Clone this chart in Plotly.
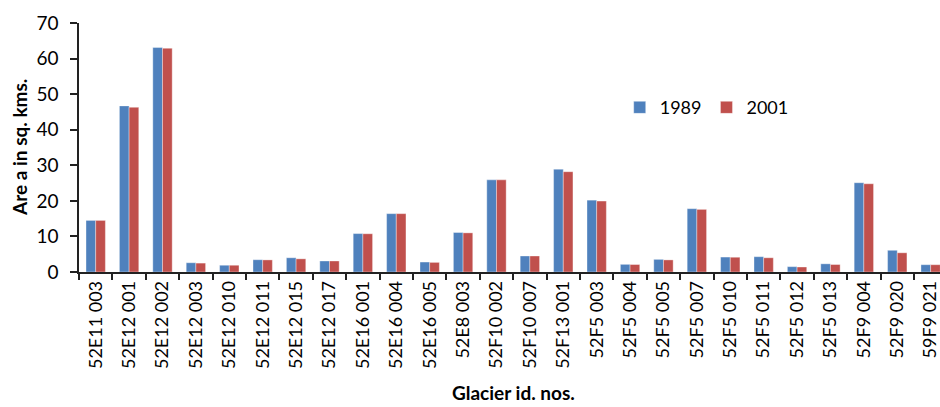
import plotly.graph_objects as go

glaciers = ["52E11 003", "52E12 001", "52E12 002", "52E12 003", "52E12 010", "52E12 011",
            "52E12 015", "52E12 017", "52E16 001", "52E16 004", "52E16 005", "52E8 003",
            "52F10 002", "52F10 007", "52F13 001", "52F5 003", "52F5 004", "52F5 005",
            "52F5 007", "52F5 010", "52F5 011", "52F5 012", "52F5 013", "52F9 004",
            "52F9 020", "59F9 021"]
area_1989 = [14.5, 46.7, 63.1, 2.6, 1.9, 3.45, 4.0, 3.1, 10.8, 16.4, 2.8, 11.1,
             25.9, 4.5, 28.9, 20.2, 2.15, 3.55, 17.8, 4.2, 4.3, 1.5, 2.3, 25.1, 6.1, 2.05]
area_2001 = [14.5, 46.3, 62.9, 2.5, 1.9, 3.4, 3.7, 3.1, 10.75, 16.4, 2.7, 11.0,
             25.9, 4.5, 28.2, 19.95, 2.1, 3.4, 17.6, 4.15, 4.0, 1.4, 2.1, 24.8, 5.4, 2.05]

FONT = "Lato, Carlito, Calibri, sans-serif"

fig = go.Figure()
fig.add_trace(go.Bar(x=glaciers, y=area_1989, name="1989",
                     marker=dict(color="#4F81BD", line=dict(color="rgba(255,255,255,0.45)", width=0.8))))
fig.add_trace(go.Bar(x=glaciers, y=area_2001, name="2001",
                     marker=dict(color="#C0504D", line=dict(color="rgba(255,255,255,0.45)", width=0.8))))

fig.update_layout(
    width=940, height=407,
    margin=dict(l=79, r=0, t=23, b=135),
    paper_bgcolor="white", plot_bgcolor="white",
    barmode="group", bargap=0.42, bargroupgap=0,
    font=dict(family=FONT, size=18, color="#000"),
    showlegend=True,
    legend=dict(orientation="h", x=0.628, y=0.66, xanchor="left", yanchor="middle",
                font=dict(size=18), bgcolor="rgba(0,0,0,0)", itemwidth=30),
    xaxis=dict(range=[-0.5, 25.28], showline=True, linecolor="#222", linewidth=1.5,
               ticks="outside", tickson="boundaries", ticklen=6, tickcolor="#222", tickwidth=1.5,
               tickangle=-90, tickfont=dict(size=18), showgrid=False, zeroline=False,
               automargin=False),
    yaxis=dict(range=[0, 70], dtick=10, showline=True, linecolor="#222", linewidth=1.5,
               ticks="outside", ticklen=7, tickcolor="#222", tickwidth=1.5,
               tickfont=dict(size=19), showgrid=False, zeroline=False,
               ticklabelstandoff=8, automargin=False),
    annotations=[
        dict(text="<b>Glacier id. nos.</b>", xref="paper", yref="paper", x=0.5047, y=-0.482,
             xanchor="center", yanchor="middle", showarrow=False, font=dict(size=19)),
        dict(text="<b>Are a in sq. kms.</b>", xref="paper", yref="paper", x=-0.0685, y=0.498,
             xanchor="center", yanchor="middle", textangle=-90, showarrow=False, font=dict(size=19)),
    ],
)

fig.write_html("out.html", config={"displayModeBar": False},
               post_script="document.body.style.margin='0';document.body.style.overflow='hidden';")
